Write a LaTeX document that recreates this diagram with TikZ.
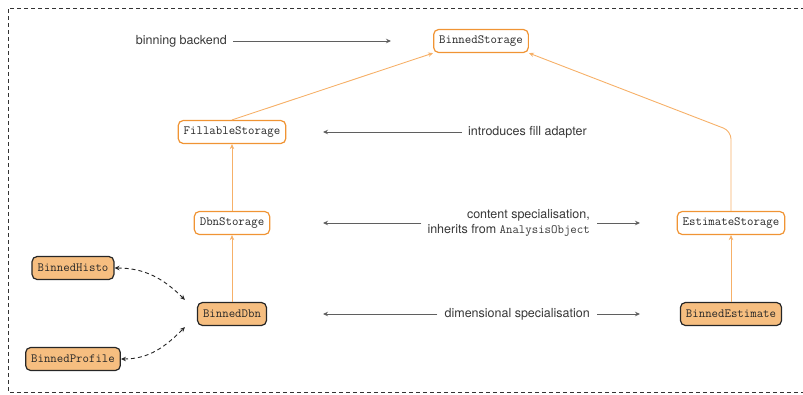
\documentclass[tikz,border=0pt]{standalone}
\usepackage{fontspec}
\setmainfont{TeX Gyre Heros}
\usetikzlibrary{arrows.meta}

\definecolor{nodeorange}{RGB}{240,148,52}
\definecolor{edgeorange}{RGB}{246,176,104}
\definecolor{fillorange}{RGB}{246,190,128}
\definecolor{textgray}{RGB}{55,55,55}
\definecolor{codegray}{RGB}{40,40,40}
\definecolor{arrowgray}{RGB}{95,95,95}

\begin{document}
\begin{tikzpicture}[x=1pt,y=-1pt,
  store/.style={draw=nodeorange, line width=1.2pt, rounded corners=5pt, fill=white,
    font=\ttfamily\fontsize{12.5}{15}\selectfont, text=codegray,
    inner xsep=5.5pt, minimum height=23pt},
  impl/.style={store, draw=black!85, fill=fillorange},
  inherit/.style={draw=edgeorange, line width=0.9pt, -{Stealth[length=5pt,width=4.5pt]}},
  note/.style={font=\fontsize{12.5}{15}\selectfont, text=textgray, inner sep=0pt},
  pointer/.style={draw=arrowgray, line width=0.9pt, -{Stealth[length=5pt,width=4.5pt]}},
  link/.style={draw=black!85, line width=0.9pt, dash pattern=on 4pt off 3pt,
    {Stealth[length=5pt,width=4.5pt]}-{Stealth[length=5pt,width=4.5pt]}},
]
\useasboundingbox (0,0) rectangle (803,394);

% surrounding dashed frame
\draw[black!80, line width=0.8pt, dash pattern=on 4pt off 3pt]
  (812,8) -- (8,8) -- (8,392) -- (812,392);

% storage hierarchy
\node[store] (bstore) at (481,41)  {BinnedStorage};
\node[store] (fstore) at (232,132) {FillableStorage};
\node[store] (dstore) at (232,223) {DbnStorage};
\node[store] (estore) at (731,223) {EstimateStorage};

% concrete classes
\node[impl] (histo)   at (73,268)  {BinnedHisto};
\node[impl] (dbn)     at (232,314) {BinnedDbn};
\node[impl] (profile) at (73,359)  {BinnedProfile};
\node[impl] (est)     at (731,314) {BinnedEstimate};

% inheritance
\draw[inherit] (fstore.north) -- (bstore.south west);
\draw[inherit] (dstore.north) -- (fstore.south);
\draw[inherit] (dbn.north) -- (dstore.south);
\draw[inherit] (est.north) -- (estore.south);
\draw[inherit, rounded corners=8pt] (estore.north) -- (731,131) -- (bstore.south east);

% aliases of BinnedDbn
\draw[link] (histo.east) to[out=0,in=135] ([xshift=-12pt,yshift=2pt]dbn.north west);
\draw[link] (profile.east) to[out=0,in=-135] ([xshift=-12pt,yshift=-1pt]dbn.south west);

% annotations
\node[note, anchor=east] (lbackend) at (227,41) {binning backend};
\coordinate (cbackend) at (391,41);
\draw[pointer] ([xshift=6pt]lbackend.east) -- (cbackend);

\node[note, anchor=west] (lfill) at (468,132) {introduces fill adapter};
\coordinate (cfill) at (323,132);
\draw[pointer] ([xshift=-6pt]lfill.west) -- (cfill);

\node[note, anchor=east, align=right] (lcontent) at (590,223)
  {content specialisation,\\ inherits from {\ttfamily AnalysisObject}};
\coordinate (ccontentl) at (323,223);
\coordinate (ccontentr) at (640,223);
\draw[pointer] ([xshift=-6pt]lcontent.west) -- (ccontentl);
\draw[pointer] ([xshift=7pt]lcontent.east) -- (ccontentr);

\node[note, anchor=east] (ldim) at (590,314) {dimensional specialisation};
\coordinate (cdiml) at (323,314);
\coordinate (cdimr) at (640,314);
\draw[pointer] ([xshift=-7pt]ldim.west) -- (cdiml);
\draw[pointer] ([xshift=7pt]ldim.east) -- (cdimr);
\end{tikzpicture}
\end{document}
